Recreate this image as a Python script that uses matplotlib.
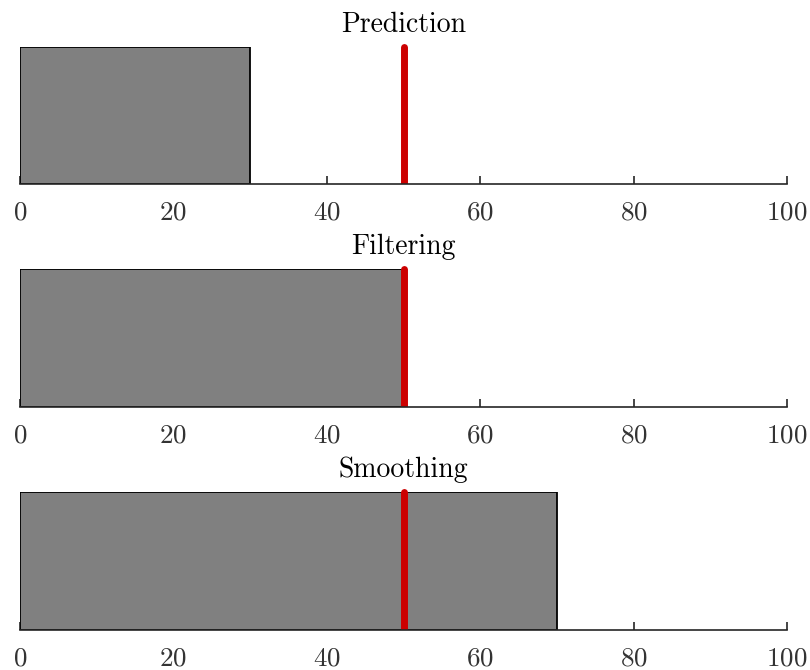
import matplotlib
matplotlib.use("Agg")
import matplotlib.pyplot as plt
from matplotlib.patches import Rectangle

plt.rcParams['font.family'] = 'serif'
plt.rcParams['font.serif'] = ['cmr10', 'DejaVu Serif']
plt.rcParams['mathtext.fontset'] = 'cm'
plt.rcParams['axes.formatter.use_mathtext'] = True

titles = ['Prediction', 'Filtering', 'Smoothing']
bar_widths = [30, 50, 70]
true_value = 50
x_ticks = [0, 20, 40, 60, 80, 100]

fig = plt.figure(figsize=(8.1, 6.7), dpi=100)

# axes rectangles in figure fractions (left, bottom, width, height)
rects = [(0.0247, 0.7254, 0.9469, 0.2045),
         (0.0247, 0.3925, 0.9469, 0.2060),
         (0.0247, 0.0597, 0.9469, 0.2060)]

for rect, title, w in zip(rects, titles, bar_widths):
    ax = fig.add_axes(rect)
    ax.barh(0.5, w, height=1.0, left=0, color='#808080',
            edgecolor='black', linewidth=1.3, zorder=2)
    ln, = ax.plot([true_value, true_value], [0, 1], color='#cc0000', linewidth=5,
                  solid_capstyle='round', zorder=2.2)
    # clip only at the bottom so the round cap shows at the top
    ln.set_clip_path(Rectangle((0, 0), 1, 1.3, transform=ax.transAxes))
    ax.set_xlim(0, 100)
    ax.set_ylim(0, 1)
    ax.set_xticks(x_ticks)
    ax.set_yticks([])
    for s in ['top', 'right', 'left']:
        ax.spines[s].set_visible(False)
    ax.spines['bottom'].set_color('#262626')
    ax.spines['bottom'].set_linewidth(1.2)
    ax.tick_params(axis='x', direction='in', length=6, width=1.2,
                   color='#262626', labelcolor='#333333', labelsize=19.5, pad=12)
    ax.set_title(title, fontsize=20, pad=11)
    ax.patch.set_visible(False)

fig.savefig('out.png', dpi=100)
